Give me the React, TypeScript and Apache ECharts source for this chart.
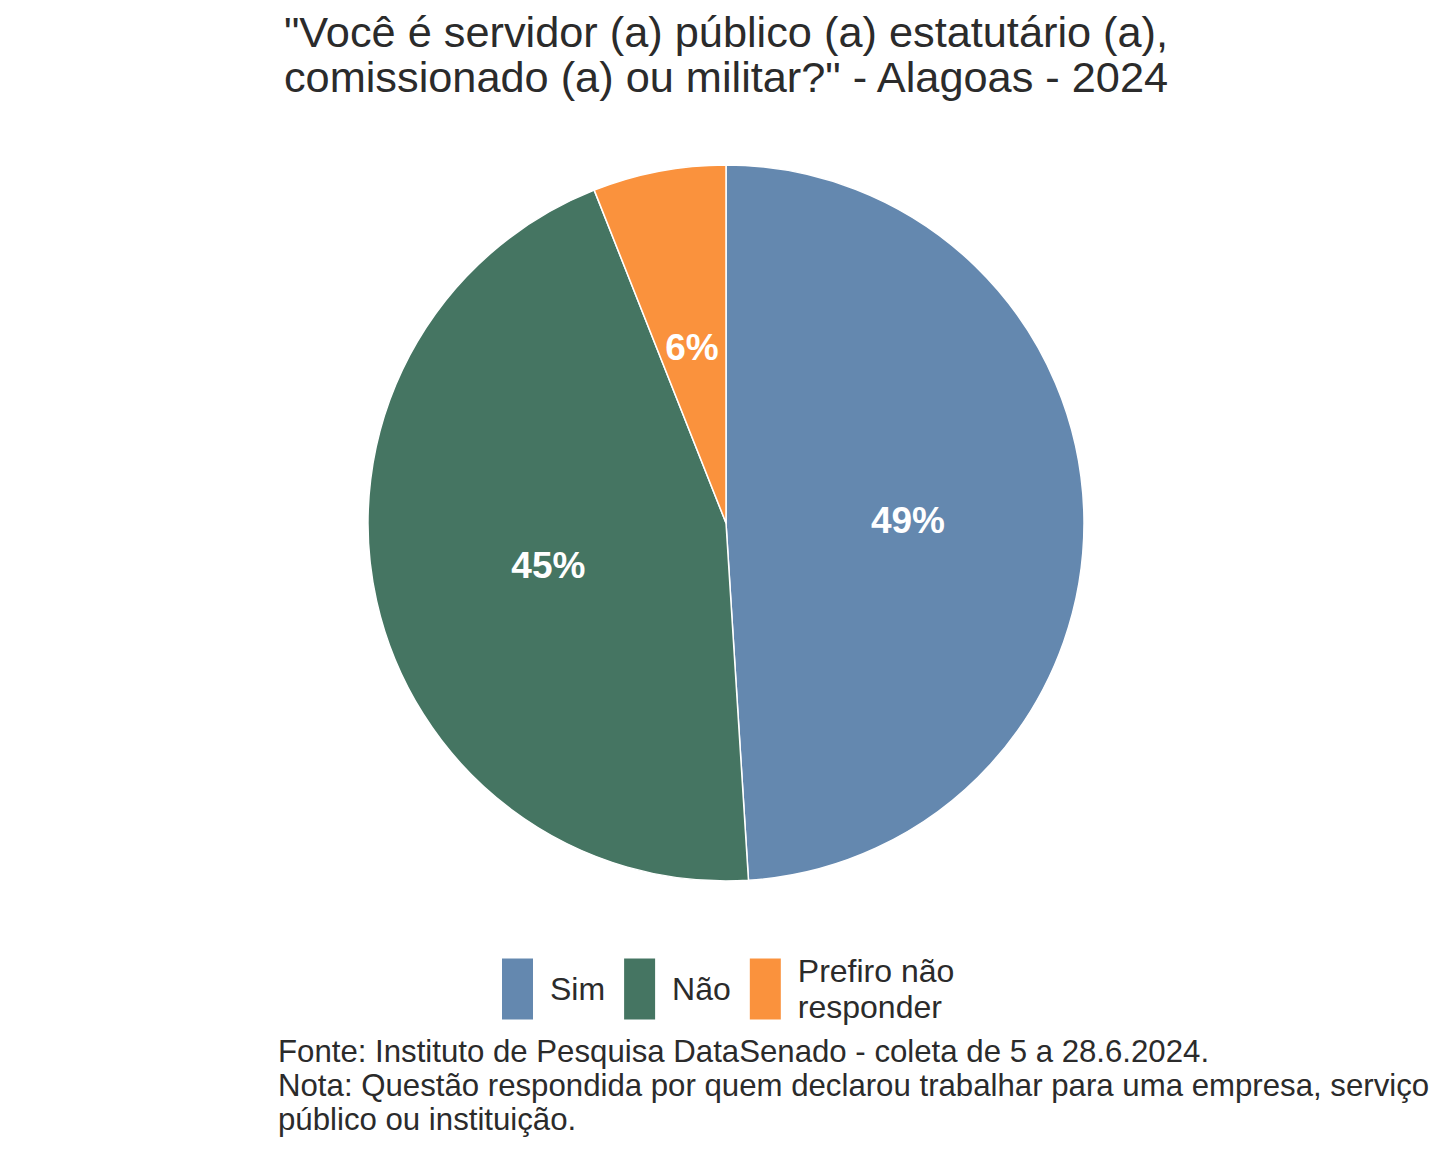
import React, { useEffect, useRef } from "react";
import * as echarts from "echarts";

const categories = ["Sim", "Não", "Prefiro não\nresponder"];
const values = [49, 45, 6];
const colors = ["#6488AF", "#457562", "#FA923D"];
const titleLines = ['"Você é servidor (a) público (a) estatutário (a),', 'comissionado (a) ou militar?" - Alagoas - 2024'];
const footerLines = [
  "Fonte: Instituto de Pesquisa DataSenado - coleta de 5 a 28.6.2024.",
  "Nota: Questão respondida por quem declarou trabalhar para uma empresa, serviço",
  "público ou instituição.",
];

const FONT = "'Liberation Sans', Arial, sans-serif";

export default function App() {
  const ref = useRef<HTMLDivElement>(null);
  useEffect(() => {
    document.body.style.margin = "0";
    const chart = echarts.init(ref.current!, undefined, { renderer: "svg" });
    chart.setOption({
      animation: false,
      backgroundColor: "#ffffff",
      textStyle: { fontFamily: FONT },
      title: {
        text: titleLines.join("\n"),
        left: 721,
        top: 4,
        textAlign: "center",
        textStyle: { fontFamily: FONT, fontSize: 43.3, fontWeight: "normal", color: "#2b2b2b", lineHeight: 45 },
      },
      legend: {
        data: categories,
        left: 495,
        top: 948,
        orient: "horizontal",
        itemWidth: 33,
        itemHeight: 63,
        itemGap: 17,
        icon: "rect",
        textStyle: { fontFamily: FONT, fontSize: 32, color: "#2b2b2b", lineHeight: 36, padding: [0, 0, 0, 11] },
        selectedMode: false,
      },
      graphic: [
        {
          type: "text",
          left: 278,
          top: 1034,
          style: {
            text: footerLines.join("\n"),
            font: `31.2px ${FONT}`,
            fill: "#2b2b2b",
            lineHeight: 34,
          },
        },
      ],
      series: [
        {
          type: "pie",
          center: [726, 523],
          radius: [0, 358],
          startAngle: 90,
          clockwise: true,
          data: categories.map((c, i) => ({ name: c, value: values[i], itemStyle: { color: colors[i] } })),
          itemStyle: { borderColor: "#ffffff", borderWidth: 1.5 },
          label: {
            show: true,
            position: "inside",
            formatter: (p: any) => `${p.value}%`,
            fontFamily: FONT,
            fontSize: 37,
            fontWeight: "bold",
            color: "#ffffff",
          },
          labelLayout: { dy: 3 },
          labelLine: { show: false },
          emphasis: { disabled: true },
        },
      ],
    });
    return () => chart.dispose();
  }, []);
  return <div ref={ref} style={{ width: 1440, height: 1152 }} />;
}
